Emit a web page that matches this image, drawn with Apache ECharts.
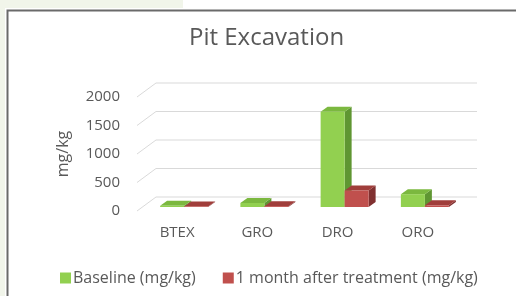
<!DOCTYPE html>
<html>
<head>
<meta charset="utf-8">
<script src="https://cdn.jsdelivr.net/npm/echarts@6/dist/echarts.min.js"></script>
<style>
  html, body { margin: 0; padding: 0; background: #fff; }
  #chart { width: 516px; height: 296px; }
</style>
</head>
<body>
<div id="chart"></div>
<script>
// data
const categories = ['BTEX', 'GRO', 'DRO', 'ORO'];
const baseline = [20, 70, 1670, 225];
const afterTreatment = [10, 15, 290, 30];
const yTicks = [0, 500, 1000, 1500, 2000];
const seriesNames = ['Baseline (mg/kg)', '1 month after treatment (mg/kg)'];

const FONT = '"Open Sans", sans-serif';
const TEXT = '#595959';
// fake 3d: back wall offset and bar depth
const WALL_DX = 19, WALL_DY = -14;
const BAR_W = 24, BAR_DX = 7, BAR_DY = -4, BAR_DEPTH_X = 7, BAR_DEPTH_Y = -5;

const greens = { front: '#92d050', top: '#7bb83f', side: '#5f9632' };
const reds = { front: '#c0504d', top: '#a03e3b', side: '#803030' };

function barRenderer(side, c) {
  return function (params, api) {
    const base = api.coord([api.value(0), 0]);
    const top = api.coord([api.value(0), api.value(1)]);
    const x0 = base[0] + BAR_DX + (side === 0 ? -BAR_W : 0);
    const x1 = x0 + BAR_W;
    const yb = base[1] + BAR_DY;
    const yt = top[1] + BAR_DY;
    return {
      type: 'group',
      children: [
        { type: 'polygon', shape: { points: [[x1, yb], [x1 + BAR_DEPTH_X, yb + BAR_DEPTH_Y], [x1 + BAR_DEPTH_X, yt + BAR_DEPTH_Y], [x1, yt]] }, style: { fill: c.side } },
        { type: 'polygon', shape: { points: [[x0, yt], [x1, yt], [x1 + BAR_DEPTH_X, yt + BAR_DEPTH_Y], [x0 + BAR_DEPTH_X, yt + BAR_DEPTH_Y]] }, style: { fill: c.top } },
        { type: 'rect', shape: { x: x0, y: yt, width: BAR_W, height: yb - yt }, style: { fill: c.front } }
      ]
    };
  };
}

function wallRenderer(params, api) {
  const p = api.coord([0, api.value(1)]);
  const cs = params.coordSys;
  const x = cs.x, y = p[1];
  return {
    type: 'group',
    children: [
      { type: 'line', shape: { x1: x, y1: y, x2: x + WALL_DX, y2: y + WALL_DY }, style: { stroke: '#d9d9d9', lineWidth: 1 } },
      { type: 'line', shape: { x1: x + WALL_DX, y1: y + WALL_DY, x2: x + WALL_DX + cs.width, y2: y + WALL_DY }, style: { stroke: '#d9d9d9', lineWidth: 1 } }
    ]
  };
}

const chart = echarts.init(document.getElementById('chart'));
chart.setOption({
  animation: false,
  textStyle: { fontFamily: FONT },
  title: {
    text: 'Pit Excavation',
    left: 184,
    top: 21,
    textStyle: { fontFamily: FONT, fontSize: 24, fontWeight: 'normal', color: TEXT }
  },
  legend: {
    data: seriesNames,
    left: 55,
    top: 265,
    icon: 'rect',
    itemWidth: 11,
    itemHeight: 11,
    itemGap: 27,
    textStyle: { fontFamily: FONT, fontSize: 16, color: TEXT, padding: [0, 0, 0, -3] }
  },
  grid: { left: 137, right: 58, top: 97, bottom: 85 },
  xAxis: {
    type: 'category',
    data: categories,
    axisLine: { show: false },
    axisTick: { show: false },
    axisLabel: { fontFamily: FONT, fontSize: 15, color: TEXT, margin: 14 }
  },
  yAxis: {
    type: 'value',
    min: 0,
    max: 2000,
    interval: 500,
    name: 'mg/kg',
    nameLocation: 'middle',
    nameRotate: 90,
    nameGap: 66,
    nameTextStyle: { fontFamily: FONT, fontSize: 16, color: TEXT },
    axisLine: { show: false },
    axisTick: { show: false },
    splitLine: { show: false },
    axisLabel: { fontFamily: FONT, fontSize: 15, color: TEXT, margin: 17, formatter: v => String(v) }
  },
  series: [
    {
      type: 'custom',
      silent: true,
      renderItem: wallRenderer,
      data: yTicks.map(v => [0, v]),
      encode: { x: 0, y: 1 },
      z: 1
    },
    {
      type: 'custom',
      name: seriesNames[0],
      renderItem: barRenderer(0, greens),
      itemStyle: { color: greens.front },
      data: baseline.map((v, i) => [i, v]),
      encode: { x: 0, y: 1 },
      z: 2
    },
    {
      type: 'custom',
      name: seriesNames[1],
      renderItem: barRenderer(1, reds),
      itemStyle: { color: reds.front },
      data: afterTreatment.map((v, i) => [i, v]),
      encode: { x: 0, y: 1 },
      z: 2
    }
  ],
  graphic: [
    { type: 'rect', shape: { x: 0, y: 0, width: 5, height: 296 }, style: { fill: '#f1f5ea' }, silent: true },
    { type: 'rect', shape: { x: 0, y: 0, width: 183, height: 8 }, style: { fill: '#f1f5ea' }, silent: true },
    { type: 'rect', shape: { x: 7.5, y: 10.5, width: 540, height: 320 }, style: { fill: 'none', stroke: '#6a6a6a', lineWidth: 2 }, silent: true }
  ]
});
</script>
</body>
</html>
